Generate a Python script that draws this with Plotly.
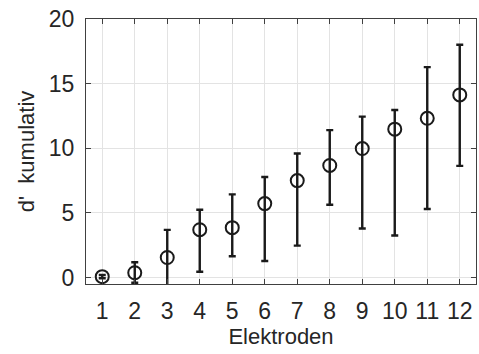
import plotly.graph_objects as go

electrodes = [1, 2, 3, 4, 5, 6, 7, 8, 9, 10, 11, 12]
d_mean = [0.07, 0.37, 1.55, 3.7, 3.86, 5.72, 7.5, 8.67, 9.98, 11.48, 12.32, 14.13]
d_upper = [0.2, 1.18, 3.69, 5.24, 6.43, 7.78, 9.6, 11.4, 12.45, 12.96, 16.28, 18.01]
d_lower = [-0.05, -0.4, -0.6, 0.45, 1.65, 1.28, 2.47, 5.63, 3.79, 3.25, 5.3, 8.64]

err_plus = [u - m for u, m in zip(d_upper, d_mean)]
err_minus = [m - l for m, l in zip(d_mean, d_lower)]

fig = go.Figure()
fig.add_trace(go.Scatter(
    x=electrodes, y=d_mean, mode="markers",
    marker=dict(symbol="circle-open", size=13, color="#1a1a1a", line=dict(width=2, color="#1a1a1a")),
    error_y=dict(type="data", symmetric=False, array=err_plus, arrayminus=err_minus,
                 color="#1a1a1a", thickness=2.4, width=3.5),
    showlegend=False,
))

FONT = "Liberation Sans, Arial, sans-serif"
axis_common = dict(
    showline=True, linecolor="#404040", linewidth=1, mirror="ticks",
    ticks="inside", ticklen=5, tickcolor="#404040",
    showgrid=True, gridcolor="#e3e3e3", gridwidth=1, zeroline=False,
    automargin=False,
    tickfont=dict(family=FONT, size=23, color="#262626"),
)

fig.update_layout(
    width=479, height=354,
    margin=dict(l=86, r=3, t=19, b=70),
    paper_bgcolor="white", plot_bgcolor="white",
    xaxis=dict(range=[0.5, 12.5], tickvals=electrodes, ticktext=[str(e) for e in electrodes],
               ticklabelstandoff=6,
               title=dict(text="Elektroden", standoff=0,
                          font=dict(family=FONT, size=22, color="#262626")),
               **axis_common),
    yaxis=dict(range=[-0.5, 20], tickvals=[0, 5, 10, 15, 20],
               ticklabelstandoff=6,
               title=dict(text="d'  kumulativ", standoff=8,
                          font=dict(family=FONT, size=22, color="#262626")),
               **axis_common),
)

fig.write_html("out.html", config={"displayModeBar": False},
               post_script="document.body.style.margin='0';")
